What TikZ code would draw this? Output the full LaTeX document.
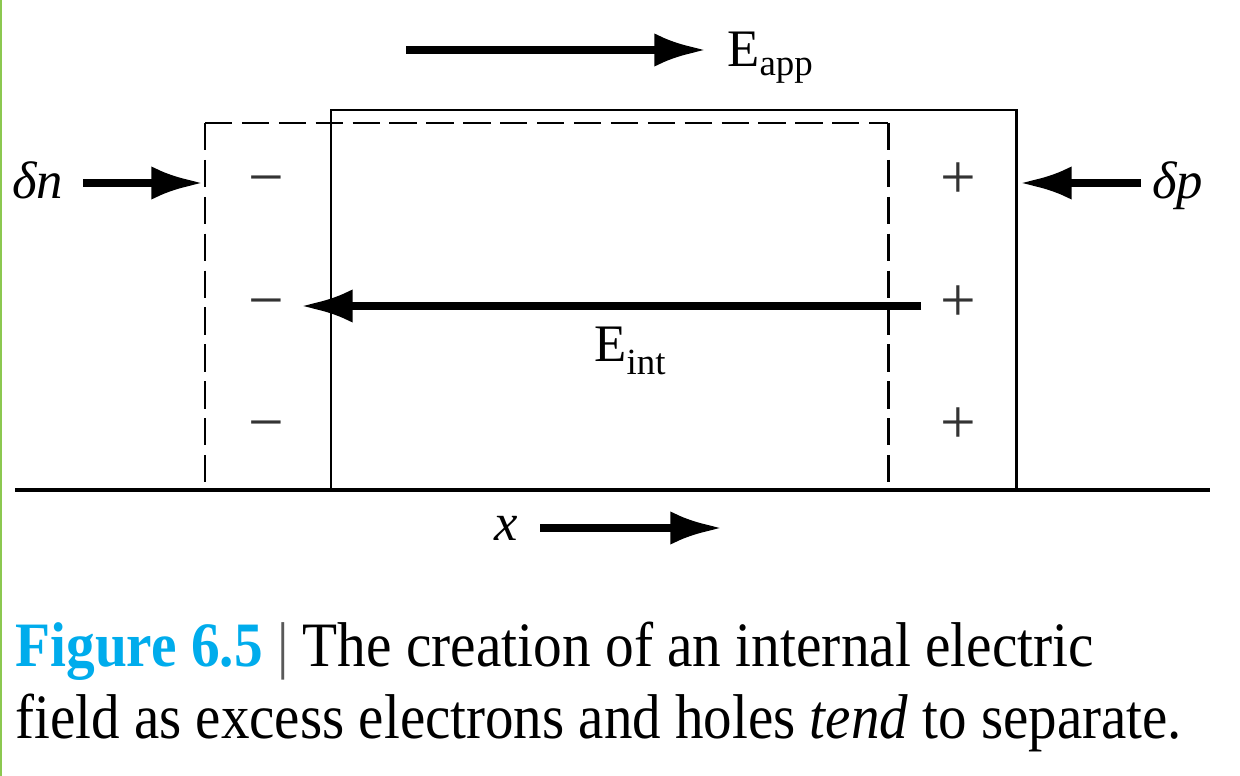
\documentclass[tikz,border=0pt]{standalone}
\usepackage{fontspec}
\usepackage{graphicx}
\setmainfont{Liberation Serif}
\usetikzlibrary{arrows.meta}
\definecolor{figblue}{RGB}{0,172,236}
\definecolor{edgegreen}{RGB}{140,200,80}
\tikzset{
  thin line/.style={line width=1.7pt, line cap=butt},
  fat arrow/.style={line width=5pt, -{Latex[length=30pt,width=19pt]}},
  lbl/.style={inner sep=0pt, font=\fontsize{30}{36}\selectfont},
  sign/.style={inner sep=0pt, anchor=base, font=\fontsize{36}{40}\selectfont},
  caption/.style={inner sep=0pt, anchor=base west, font=\fontsize{36}{40}\selectfont}
}
\begin{document}
\begin{tikzpicture}[x=0.02cm,y=-0.02cm]
\useasboundingbox (0,0) rectangle (1240,776);
\fill[white] (0,0) rectangle (1240,776);
\fill[edgegreen] (0,0) rectangle (2.5,776);

% baseline
\coordinate (bl) at (15,490);
\coordinate (br) at (1210,490);
\draw[line width=2pt] (bl) -- (br);

% solid box (open at bottom)
\coordinate (s1) at (331,490);
\coordinate (s2) at (331,110);
\coordinate (s3) at (1016,110);
\coordinate (s4) at (1016,490);
\draw[thin line] (s1) -- (s2) -- (s3) -- (s4);

% dashed box
\coordinate (d1) at (205,490);
\coordinate (d2) at (205,123);
\coordinate (d3) at (888,123);
\coordinate (d4) at (888,490);
\draw[thin line, dash pattern=on 15.5pt off 5.5pt] (d2) -- (d3);
\draw[thin line, dash pattern=on 15.5pt off 5.5pt] (d2) -- (d1);
\draw[thin line, dash pattern=on 15.5pt off 5.5pt] (d3) -- (d4);

% applied field
\coordinate (eaS) at (406,50);
\coordinate (eaE) at (707,50);
\draw[fat arrow] (eaS) -- (eaE);
\node[lbl, anchor=base west] (eapp) at (727,67) {E\raisebox{-5pt}{\fontsize{21}{24}\selectfont app}};

% delta n
\node[lbl, anchor=base west] (dn) at (12,199) {\textit{δn}};
\coordinate (dnS) at (83,183);
\coordinate (dnE) at (204,183);
\draw[fat arrow] (dnS) -- (dnE);

% delta p
\node[lbl, anchor=base west] (dp) at (1152,199) {\textit{δp}};
\coordinate (dpS) at (1141,183);
\coordinate (dpE) at (1019,183);
\draw[fat arrow] (dpS) -- (dpE);

% signs
\foreach \yy/\nm in {183/a,306/b,427/c}{
  \node[sign, text=black!80] (m\nm) at (266,\yy+16) {−};
  \node[sign, text=black!80] (p\nm) at (958,\yy+16) {+};
}

% internal field
\coordinate (eiS) at (921,306);
\coordinate (eiE) at (300,306);
\draw[fat arrow] (eiS) -- (eiE);
\node[lbl, anchor=base west] (eint) at (594,362) {E\raisebox{-7pt}{\fontsize{21}{24}\selectfont int}};

% x axis label
\node[lbl, anchor=base west] (xl) at (494,540) {\textit{x}};
\coordinate (xS) at (540,528);
\coordinate (xE) at (723,528);
\draw[fat arrow] (xS) -- (xE);

% caption
\node[caption] (cap1) at (15,666) {\resizebox{614pt}{\height}{\textcolor{figblue}{\bfseries Figure 6.5} \textcolor{black!65}{|} The creation of an internal electric}};
\node[caption] (cap2) at (15,738) {\resizebox{664pt}{\height}{field as excess electrons and holes \textit{tend} to separate.}};
\end{tikzpicture}
\end{document}
